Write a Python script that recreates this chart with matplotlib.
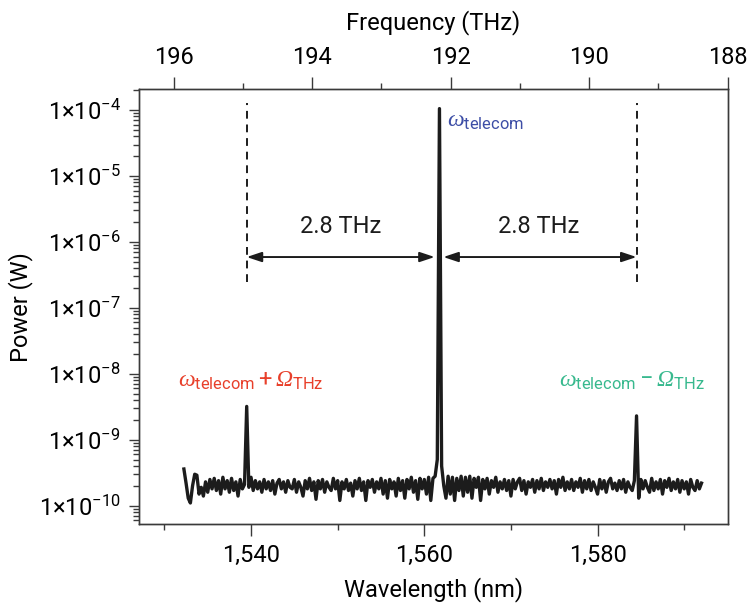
import numpy as np
import matplotlib
matplotlib.use("Agg")
import matplotlib.pyplot as plt
from matplotlib.ticker import FixedLocator, FuncFormatter, NullFormatter

plt.rcParams['font.family'] = ['Roboto', 'DejaVu Sans']
plt.rcParams['mathtext.fontset'] = 'custom'
plt.rcParams['mathtext.rm'] = 'Roboto'
plt.rcParams['mathtext.it'] = 'Liberation Serif:italic'
plt.rcParams['mathtext.sf'] = 'Liberation Serif:italic'

# spectrum, wavelength grid 1532.25 .. 1592.0 nm, 0.25 nm step, power in units of 1e-10 W
wl_start, wl_step = 1532.25, 0.25
power_e10 = [
    3.6, 2.2, 1.3, 1.1, 2.0, 3.0, 2.9, 1.5, 1.9, 1.4,
    2.3, 1.6, 2.5, 1.8, 2.6, 1.7, 2.4, 1.5, 2.7, 1.8,
    2.4, 1.6, 2.6, 1.7, 2.3, 1.4, 2.5, 1.8, 2.1, 32.0,
    1.9, 2.7, 1.7, 2.4, 1.8, 2.3, 1.6, 2.5, 1.8, 2.3,
    1.7, 2.4, 1.5, 2.2, 2.5, 1.8, 2.3, 1.6, 2.4, 1.9,
    1.8, 2.5, 1.6, 2.3, 1.9, 1.4, 2.4, 1.8, 2.6, 1.7,
    2.3, 1.25, 2.4, 1.8, 2.5, 1.6, 2.3, 1.9, 1.7, 2.6,
    1.8, 2.4, 1.2, 2.3, 1.8, 2.5, 1.7, 2.2, 1.4, 2.4,
    1.8, 2.6, 1.7, 2.3, 1.2, 2.4, 1.9, 2.5, 1.6, 2.3,
    1.8, 2.6, 1.5, 2.4, 1.3, 2.5, 1.8, 2.3, 1.4, 2.6,
    1.7, 2.4, 1.3, 2.5, 1.8, 2.7, 1.6, 2.4, 1.25, 2.6,
    1.8, 2.5, 1.5, 2.7, 1.2, 2.6, 2.8, 5.0, 1.05e6, 4.0,
    2.0, 1.3, 2.8, 1.5, 2.7, 1.2, 2.6, 1.7, 2.8, 1.4,
    2.7, 1.6, 2.8, 1.3, 2.6, 1.9, 2.7, 1.2, 2.5, 1.8,
    2.6, 1.5, 2.4, 1.9, 2.7, 1.6, 2.3, 1.8, 2.5, 1.7,
    2.4, 1.4, 2.5, 1.8, 2.3, 2.6, 1.7, 2.4, 1.5, 2.3,
    1.9, 2.5, 1.6, 2.4, 1.8, 2.6, 1.7, 2.3, 1.9, 2.5,
    1.8, 2.4, 1.5, 2.5, 1.9, 2.7, 1.7, 2.3, 1.8, 2.5,
    1.7, 2.3, 1.9, 2.6, 1.6, 2.4, 1.8, 2.5, 1.7, 2.3,
    1.9, 1.5, 2.5, 1.8, 2.4, 1.6, 2.3, 2.6, 1.8, 2.2,
    1.7, 2.4, 1.8, 2.5, 1.6, 2.3, 1.9, 1.7, 2.4, 23.0,
    1.3, 2.5, 1.8, 2.4, 1.9, 1.6, 2.6, 1.7, 2.3, 1.8,
    2.5, 1.5, 2.4, 1.9, 2.6, 1.7, 2.3, 1.8, 2.5, 1.6,
    2.4, 1.8, 2.3, 1.5, 2.5, 1.9, 1.7, 2.4, 1.8, 2.2,
]

sideband_wl = [1539.5, 1584.5]    # dashed markers
span_label = "2.8 THz"
arrow_y = 5.9e-7
label_y = 1.74e-6

wl_ticks = [1540, 1560, 1580]
wl_minor = [1530, 1550, 1570, 1590]
freq_ticks = [196, 194, 192, 190, 188]
freq_minor = [195, 193, 191, 189]
power_decades = [-10, -9, -8, -7, -6, -5, -4]

col_blue = '#3d4ea6'
col_red = '#e8402b'
col_teal = '#38b98e'
col_axis = '#3a3a3a'
col_line = '#1c1c1c'

wl = wl_start + wl_step * np.arange(len(power_e10))
power = np.array(power_e10) * 1e-10

fig = plt.figure(figsize=(7.48, 6.11), dpi=100)
ax = fig.add_axes([0.1862, 0.1424, 0.7864, 0.7114])

ax.plot(wl, power, color=col_line, lw=2.4)
ax.set_yscale('log')
ax.set_xlim(1527.1, 1595.0)
ax.set_ylim(5.28e-11, 2.06e-4)

# dashed lines and arrows
for x in sideband_wl:
    ax.plot([x, x], [2.5e-7, 1.3e-4], color=col_line, lw=1.4, ls=(0, (4, 3)))
arrow_props = dict(arrowstyle='<|-|>,head_length=0.6,head_width=0.2',
                   color=col_line, lw=1.4, mutation_scale=15,
                   shrinkA=0, shrinkB=0)
ax.annotate('', xy=(sideband_wl[0], arrow_y), xytext=(1561.2, arrow_y),
            arrowprops=arrow_props)
ax.annotate('', xy=(1562.2, arrow_y), xytext=(sideband_wl[1], arrow_y),
            arrowprops=arrow_props)
ax.text(1550.3, label_y, span_label, fontsize=17, ha='center', va='center',
        color=col_line)
ax.text(1573.2, label_y, span_label, fontsize=17, ha='center', va='center',
        color=col_line)

# peak labels
ax.text(1562.6, 7.0e-5, r'$\omega_{\mathrm{telecom}}$', color=col_blue,
        fontsize=17, ha='left', va='center')
ax.text(1540.0, 7.8e-9, r'$\omega_{\mathrm{telecom}}+\mathsf{\Omega}_{\mathrm{THz}}$',
        color=col_red, fontsize=17, ha='center', va='center')
ax.text(1584.0, 7.8e-9, r'$\omega_{\mathrm{telecom}}-\mathsf{\Omega}_{\mathrm{THz}}$',
        color=col_teal, fontsize=17, ha='center', va='center')

# axes styling
ax.xaxis.set_major_locator(FixedLocator(wl_ticks))
ax.xaxis.set_minor_locator(FixedLocator(wl_minor))
ax.xaxis.set_major_formatter(FuncFormatter(lambda v, p: f'{v:,.0f}'))
ax.yaxis.set_major_locator(FixedLocator([10.0 ** d for d in power_decades]))
minor_y = [m * 10.0 ** d for d in [-11] + power_decades for m in range(2, 10)]
ax.yaxis.set_minor_locator(FixedLocator(minor_y))
ax.yaxis.set_minor_formatter(NullFormatter())
ax.yaxis.set_major_formatter(FuncFormatter(
    lambda v, p: r'$\mathdefault{1{\times}10^{%d}}$' % round(np.log10(v))))
ax.tick_params(which='major', direction='out', length=8.5, width=1.0,
               color=col_axis, labelsize=17, pad=6)
ax.tick_params(which='minor', direction='out', length=4.5, width=1.0, color=col_axis)
ax.tick_params(axis='y', which='major', length=7.5)
for s in ax.spines.values():
    s.set_color(col_axis)
    s.set_linewidth(1.0)
ax.set_xlabel('Wavelength (nm)', fontsize=17, labelpad=7)
ax.set_ylabel('Power (W)', fontsize=17, labelpad=4)

# top frequency axis
ax2 = ax.twiny()
ax2.set_xlim(196.5, 188.0)
ax2.xaxis.set_major_locator(FixedLocator(freq_ticks))
ax2.xaxis.set_minor_locator(FixedLocator(freq_minor))
ax2.tick_params(which='major', direction='out', length=8.5, width=1.0,
                color=col_axis, labelsize=17, pad=6)
ax2.tick_params(which='minor', direction='out', length=4.5, width=1.0, color=col_axis)
for s in ax2.spines.values():
    s.set_color(col_axis)
    s.set_linewidth(1.0)
ax2.set_xlabel('Frequency (THz)', fontsize=17, labelpad=12)

fig.savefig('out.png', dpi=100)
